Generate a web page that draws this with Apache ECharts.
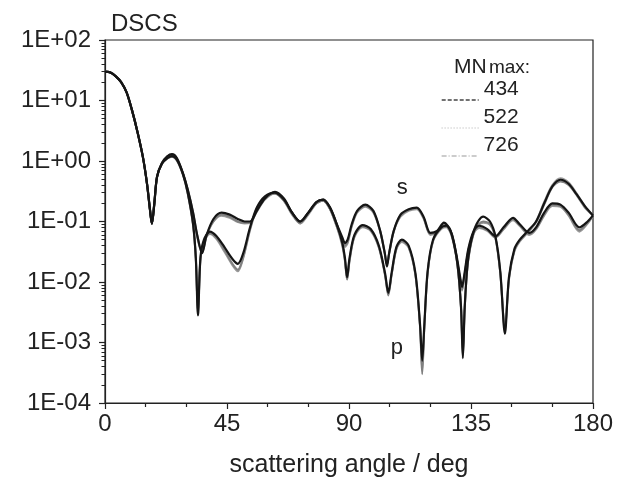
<!DOCTYPE html>
<html>
<head>
<meta charset="utf-8">
<script src="https://cdn.jsdelivr.net/npm/echarts@6/dist/echarts.min.js"></script>
<style>html,body{margin:0;padding:0;background:#fff;}#c{width:623px;height:486px;}</style>
</head>
<body>
<div id="c"></div>
<script>
// ---- data ----
const xTicks = [0, 45, 90, 135, 180];
const yTickLabels = ['1E-04','1E-03','1E-02','1E-01','1E+00','1E+01','1E+02'];
const legendNames = ['434', '522', '726'];

const sAng = [0,2,4,6,8,10,12,14,15.5,16.6,17.3,18.2,19.2,21,23,24.7,26.5,28.8,30.5,32.5,34,35.8,37.5,40,43,46,49,51.5,53.5,56,59,62.7,66,69,72,75,78,80.5,83,85.5,87.5,88.5,89.5,91,93,96,99,101.5,103.2,104,104.8,106.5,109,112,115,117.5,120,122.5,125,127.5,129.5,131,131.7,132.4,134,136,138,141,144,147,150.5,153,156.5,159,162,165,168,171,175,178,180];
const s434 = [30,29,25,20,13.5,6.8,3,1.15,0.42,0.155,0.092,0.2,0.55,0.93,1.2,1.3,1.12,0.62,0.34,0.14,0.06,0.03,0.06,0.11,0.14,0.13,0.11,0.1,0.1,0.15,0.24,0.31,0.24,0.14,0.1,0.14,0.21,0.23,0.17,0.09,0.055,0.044,0.05,0.09,0.15,0.19,0.15,0.07,0.03,0.018,0.03,0.07,0.13,0.16,0.17,0.12,0.065,0.07,0.096,0.07,0.03,0.012,0.0083,0.012,0.035,0.07,0.085,0.075,0.057,0.08,0.115,0.09,0.065,0.08,0.14,0.2,0.19,0.14,0.08,0.1,0.126];
const s522 = [30,29,25,20,13.5,6.8,3,1.15,0.42,0.155,0.092,0.2,0.55,0.93,1.2,1.28,1.1,0.62,0.34,0.14,0.06,0.032,0.06,0.1,0.13,0.12,0.1,0.095,0.097,0.15,0.24,0.3,0.23,0.14,0.095,0.14,0.2,0.22,0.16,0.085,0.05,0.04,0.046,0.085,0.145,0.18,0.145,0.07,0.03,0.02,0.03,0.07,0.125,0.155,0.165,0.115,0.062,0.068,0.09,0.066,0.028,0.011,0.0075,0.011,0.033,0.066,0.08,0.072,0.055,0.076,0.11,0.086,0.062,0.076,0.13,0.19,0.18,0.13,0.072,0.095,0.126];
const s726 = [30,29,25,20,13.5,6.8,3,1.15,0.42,0.155,0.092,0.2,0.55,0.93,1.2,1.27,1.1,0.61,0.33,0.13,0.055,0.03,0.058,0.1,0.125,0.115,0.098,0.093,0.095,0.145,0.23,0.29,0.23,0.135,0.093,0.135,0.2,0.22,0.16,0.082,0.048,0.038,0.044,0.082,0.14,0.175,0.14,0.068,0.029,0.019,0.029,0.068,0.12,0.15,0.16,0.112,0.06,0.066,0.088,0.064,0.027,0.011,0.0072,0.011,0.032,0.064,0.078,0.07,0.054,0.074,0.105,0.084,0.06,0.074,0.125,0.18,0.175,0.125,0.068,0.092,0.126];

const pAng = [0,2,4,6,8,10,12,14,15.5,16.6,17.3,18.2,19.2,21,23,24.7,26.5,28.8,30.5,32.5,33.5,34.3,35.2,36.5,38.7,41,44,47,49,51,53.5,56,59,62.7,66,69,72,75,78,80.5,83,85.5,87.5,88.5,89.3,90.2,92,95,98,101,103.3,104.5,105.7,107.5,109.5,112,114.5,116.2,117,117.8,119,121,124,126,128,130,131.3,132,132.7,134,136.5,139.5,142,144,145.8,147.5,149,151,153,156,159,162,165,168,171,174,177,180];
const p434 = [30,29,25,20,13.5,6.8,3,1.15,0.42,0.155,0.092,0.2,0.55,0.9,1.12,1.2,1.05,0.6,0.3,0.09,0.025,0.0028,0.025,0.05,0.068,0.058,0.038,0.024,0.02,0.03,0.08,0.17,0.26,0.3,0.23,0.14,0.1,0.14,0.21,0.23,0.17,0.09,0.045,0.025,0.012,0.025,0.06,0.087,0.075,0.04,0.014,0.0066,0.014,0.038,0.05,0.04,0.014,0.002,0.0005,0.002,0.015,0.05,0.08,0.085,0.06,0.02,0.004,0.00055,0.004,0.025,0.08,0.12,0.1,0.057,0.015,0.0014,0.012,0.035,0.05,0.07,0.1,0.2,0.38,0.49,0.42,0.28,0.18,0.126];
const p522 = [30,29,25,20,13.5,6.8,3,1.15,0.42,0.155,0.092,0.2,0.55,0.9,1.1,1.18,1.03,0.59,0.3,0.09,0.025,0.003,0.024,0.048,0.064,0.054,0.034,0.02,0.016,0.026,0.075,0.165,0.25,0.29,0.22,0.135,0.095,0.135,0.2,0.22,0.165,0.085,0.042,0.023,0.011,0.023,0.057,0.083,0.072,0.038,0.013,0.006,0.013,0.036,0.048,0.038,0.013,0.0018,0.0003,0.0018,0.014,0.048,0.077,0.082,0.057,0.019,0.0038,0.0006,0.0038,0.024,0.075,0.1,0.09,0.055,0.014,0.0016,0.011,0.033,0.048,0.067,0.097,0.19,0.37,0.46,0.4,0.27,0.17,0.126];
const p726 = [30,29,25,20,13.5,6.8,3,1.15,0.42,0.155,0.092,0.2,0.55,0.9,1.1,1.17,1.02,0.58,0.29,0.085,0.024,0.0032,0.023,0.046,0.062,0.052,0.032,0.019,0.015,0.025,0.072,0.16,0.25,0.29,0.22,0.13,0.093,0.13,0.2,0.22,0.16,0.082,0.04,0.022,0.011,0.022,0.055,0.08,0.07,0.037,0.013,0.0062,0.013,0.035,0.046,0.037,0.013,0.0019,0.00035,0.0019,0.014,0.047,0.075,0.08,0.056,0.019,0.0039,0.0007,0.0039,0.023,0.072,0.095,0.088,0.054,0.014,0.0017,0.011,0.032,0.047,0.066,0.1,0.21,0.4,0.52,0.44,0.29,0.18,0.126];

const sLabelPos = [109.6, 0.358];
const pLabelPos = [107.7, 0.00081];

// ---- build ----
const FONT = 'Liberation Sans, Arial, sans-serif';
function pairs(a, v) { return a.map((x, i) => [x, v[i]]); }
function expLabel(v) {
  const e = Math.round(Math.log10(v));
  return '1E' + (e >= 0 ? '+' : '-') + String(Math.abs(e)).padStart(2, '0');
}
// minor log tick positions (in log10 space) for the decorative tick axis
const minorLogTicks = [];
for (let d = -4; d < 2; d++) for (let k = 2; k <= 9; k++) minorLogTicks.push(d + Math.log10(k));

const styles = {
  '434': { color: '#151515', width: 2.2 },
  '522': { color: '#808080', width: 2 },
  '726': { color: '#9a9a9a', width: 2 }
};
const legendLine = {
  '434': { color: '#444', width: 1.4, type: [4, 2] },
  '522': { color: '#b0b0b0', width: 1.2, type: [1, 2] },
  '726': { color: '#9a9a9a', width: 1.2, type: [5, 2, 1, 2] }
};

function mkSeries(name, data, extra) {
  return Object.assign({
    name: name, type: 'line', data: data, symbol: 'none',
    smooth: 0.3,
    lineStyle: { color: styles[name].color, width: styles[name].width },
    itemStyle: { color: styles[name].color },
    xAxisIndex: 0, yAxisIndex: 0, animation: false
  }, extra || {});
}
function mkLabel(pos, txt) {
  return {
    symbol: 'circle', symbolSize: 1, itemStyle: { color: 'rgba(0,0,0,0)' },
    label: { show: true, position: 'inside', formatter: txt, fontSize: 22, color: '#222', fontFamily: FONT },
    data: [{ coord: pos }]
  };
}

const series = [
  mkSeries('726', pairs(sAng, s726)),
  mkSeries('726', pairs(pAng, p726)),
  mkSeries('522', pairs(sAng, s522)),
  mkSeries('522', pairs(pAng, p522)),
  mkSeries('434', pairs(sAng, s434), { markPoint: mkLabel(sLabelPos, 's') }),
  mkSeries('434', pairs(pAng, p434), { markPoint: mkLabel(pLabelPos, 'p') })
];

const legendTops = [78, 106, 134];
const legends = legendNames.map((n, i) => ({
  data: [{ name: n, lineStyle: legendLine[n], itemStyle: { opacity: 0 } }],
  left: 441, top: legendTops[i], padding: 0, orient: 'vertical',
  itemWidth: 37, itemHeight: 2, itemGap: 0,
  formatter: name => name + '\n ',
  textStyle: { fontSize: 21, lineHeight: 22, color: '#222', fontFamily: FONT },
  selectedMode: false
}));

const chart = echarts.init(document.getElementById('c'), null, { renderer: 'canvas' });
chart.setOption({
  backgroundColor: '#fff',
  animation: false,
  title: [
    { text: 'DSCS', left: 106, top: 7, textStyle: { fontSize: 24, fontWeight: 'normal', color: '#222', fontFamily: FONT } },
    { text: '{a|MN}{c| }{b|max:}', left: 449, top: 52,
      textStyle: { fontWeight: 'normal', rich: {
        a: { fontSize: 21, color: '#222', fontFamily: FONT, fontWeight: 'normal' },
        c: { fontSize: 8, fontFamily: FONT, fontWeight: 'normal' },
        b: { fontSize: 19, color: '#222', fontFamily: FONT, fontWeight: 'normal' }
      } } }
  ],
  legend: legends,
  grid: { left: 105, right: 30, top: 40, bottom: 83, show: true, borderColor: '#222', borderWidth: 1.2, backgroundColor: 'transparent' },
  xAxis: [{
    type: 'value', min: xTicks[0], max: xTicks[xTicks.length - 1], interval: 45,
    name: 'scattering angle / deg', nameLocation: 'middle', nameGap: 50,
    nameTextStyle: { fontSize: 25, color: '#222', fontFamily: FONT },
    axisLine: { show: true, onZero: false, lineStyle: { color: '#222', width: 1.2 } },
    axisTick: { show: true, length: 6, lineStyle: { color: '#222', width: 1.2 } },
    minorTick: { show: true, splitNumber: 3, length: 4, lineStyle: { color: '#222', width: 1.2 } },
    axisLabel: { fontSize: 24, color: '#222', fontFamily: FONT, margin: 9 },
    splitLine: { show: false }
  }],
  yAxis: [{
    type: 'log', logBase: 10, min: 1e-4, max: 100,
    axisLine: { show: true, onZero: false, lineStyle: { color: '#222', width: 1.2 } },
    axisTick: { show: true, length: 6, lineStyle: { color: '#222', width: 1.2 } },
    axisLabel: { fontSize: 24, color: '#222', fontFamily: FONT, margin: 14,
      formatter: v => { const l = expLabel(v); return yTickLabels.indexOf(l) >= 0 ? l : ''; } },
    splitLine: { show: false }
  }, {
    type: 'value', min: -4, max: 2, position: 'left',
    axisLine: { show: false, onZero: false },
    axisTick: { show: true, length: 3.5, customValues: minorLogTicks, lineStyle: { color: '#222', width: 1 } },
    axisLabel: { show: false },
    splitLine: { show: false }
  }],
  series: series
});
</script>
</body>
</html>
